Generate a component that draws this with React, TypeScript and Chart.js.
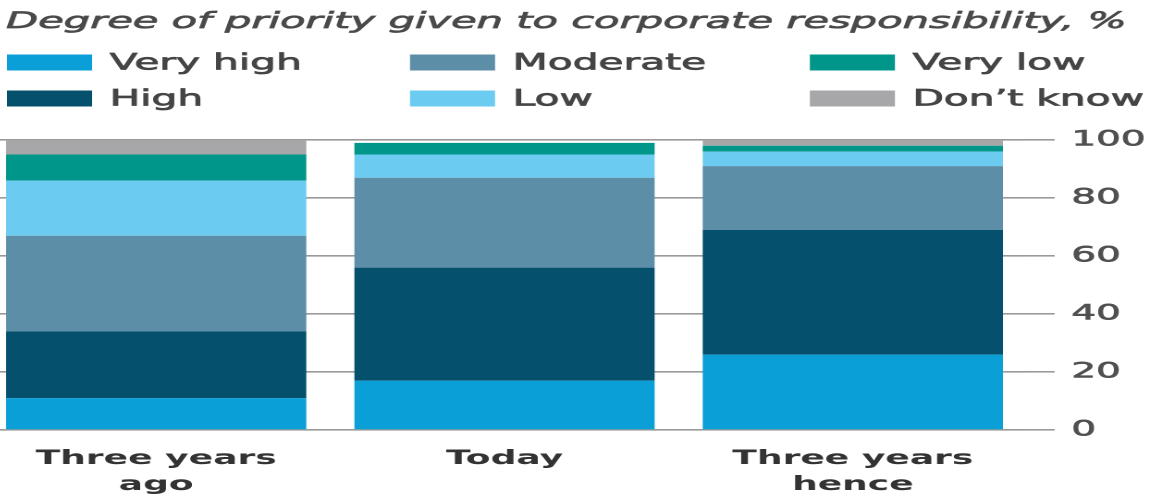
import React, { useEffect, useRef } from "react";
import { Chart, registerables } from "chart.js";

Chart.register(...registerables);

// ---- data ----
const categories: string[][] = [["Three years", "ago"], ["Today"], ["Three years", "hence"]];
const seriesNames = ["Very high", "High", "Moderate", "Low", "Very low", "Don\u2019t know"];
const veryHigh = [11, 17, 26];
const high = [23, 39, 43];
const moderate = [33, 31, 22];
const low = [19, 8, 5];
const veryLow = [9, 4, 2];
const dontKnow = [5, 0, 2];
const yTicks = [0, 20, 40, 60, 80, 100];
const titleText = "Degree of priority given to corporate responsibility, %";

const seriesColors = ["#0b9fd8", "#04506d", "#5d8ea7", "#6ccbf1", "#01968a", "#a7a7a9"];

// ---- layout (the picture is horizontally stretched) ----
const STRETCH = 1.85;
const LOGICAL_W = 638;
const H = 497;
const SHIFT = 18;

const legendColX = [13.5, 231.4, 447.6];
const legendRowY = [62.5, 98.5];

const headerPlugin = {
  id: "header",
  afterDraw(chart: any) {
    const ctx = chart.ctx as CanvasRenderingContext2D;
    ctx.save();
    ctx.textAlign = "left";
    ctx.textBaseline = "alphabetic";
    ctx.font = 'italic 22.5px "DejaVu Sans"';
    ctx.fillStyle = "#4a4a4a";
    ctx.strokeStyle = "#4a4a4a";
    ctx.lineWidth = 0.7;
    ctx.fillText(titleText, 13, 28);
    ctx.strokeText(titleText, 13, 28);

    ctx.font = '22px "DejaVu Sans"';
    ctx.textBaseline = "middle";
    chart.data.datasets.forEach((ds: any, i: number) => {
      const col = Math.floor(i / 2);
      const row = i % 2;
      const bx = legendColX[col];
      const cy = legendRowY[row];
      ctx.fillStyle = ds.backgroundColor as string;
      ctx.fillRect(bx, cy - 8, 46, 16);
      ctx.fillStyle = "#454545";
      ctx.strokeStyle = "#454545";
      ctx.lineWidth = 0.7;
      ctx.fillText(ds.label, bx + 55.5, cy + 1.5);
      ctx.strokeText(ds.label, bx + 55.5, cy + 1.5);
    });
    ctx.restore();
  },
};

export default function App() {
  const ref = useRef<HTMLCanvasElement | null>(null);

  useEffect(() => {
    document.body.style.margin = "0";
    const canvas = ref.current;
    if (!canvas) return;
    const series = [veryHigh, high, moderate, low, veryLow, dontKnow];
    const chart = new Chart(canvas, {
      type: "bar",
      data: {
        labels: categories,
        datasets: series.map((d, i) => ({
          label: seriesNames[i],
          data: d,
          backgroundColor: seriesColors[i],
          borderWidth: 0,
          categoryPercentage: 1,
          barPercentage: 0.862,
        })),
      },
      options: {
        responsive: false,
        animation: false,
        devicePixelRatio: 2,
        layout: { padding: { top: 140, left: 0, right: 0, bottom: 0 } },
        plugins: {
          legend: { display: false },
          title: { display: false },
          tooltip: { enabled: false },
        },
        scales: {
          x: {
            stacked: true,
            grid: { display: false, drawTicks: false },
            border: { display: false },
            ticks: {
              color: "#333333",
              padding: 16,
              font: { family: "DejaVu Sans", size: 19.5, weight: "bold", lineHeight: 26 / 19.5 },
            },
            afterFit: (s: any) => {
              s.height = 67;
            },
          },
          y: {
            stacked: true,
            position: "right",
            min: 0,
            max: 100,
            afterBuildTicks: (s: any) => {
              s.ticks = yTicks.map((v) => ({ value: v }));
            },
            grid: { color: "#9a9a9a", lineWidth: 1.6, drawTicks: true, tickLength: 15 },
            border: { display: false },
            ticks: {
              color: "#505050",
              textStrokeColor: "#505050",
              textStrokeWidth: 0.6,
              padding: 9,
              font: { family: "DejaVu Sans", size: 21 },
            },
            afterFit: (s: any) => {
              s.width = 73;
            },
          },
        },
      },
      plugins: [headerPlugin],
    });
    return () => chart.destroy();
  }, []);

  return (
    <div style={{ position: "relative", width: 1163, height: H, overflow: "hidden", background: "#fff" }}>
      <canvas
        ref={ref}
        width={LOGICAL_W}
        height={H}
        style={{
          position: "absolute",
          left: -SHIFT,
          top: 0,
          width: `${LOGICAL_W * STRETCH}px`,
          height: `${H}px`,
        }}
      />
    </div>
  );
}
